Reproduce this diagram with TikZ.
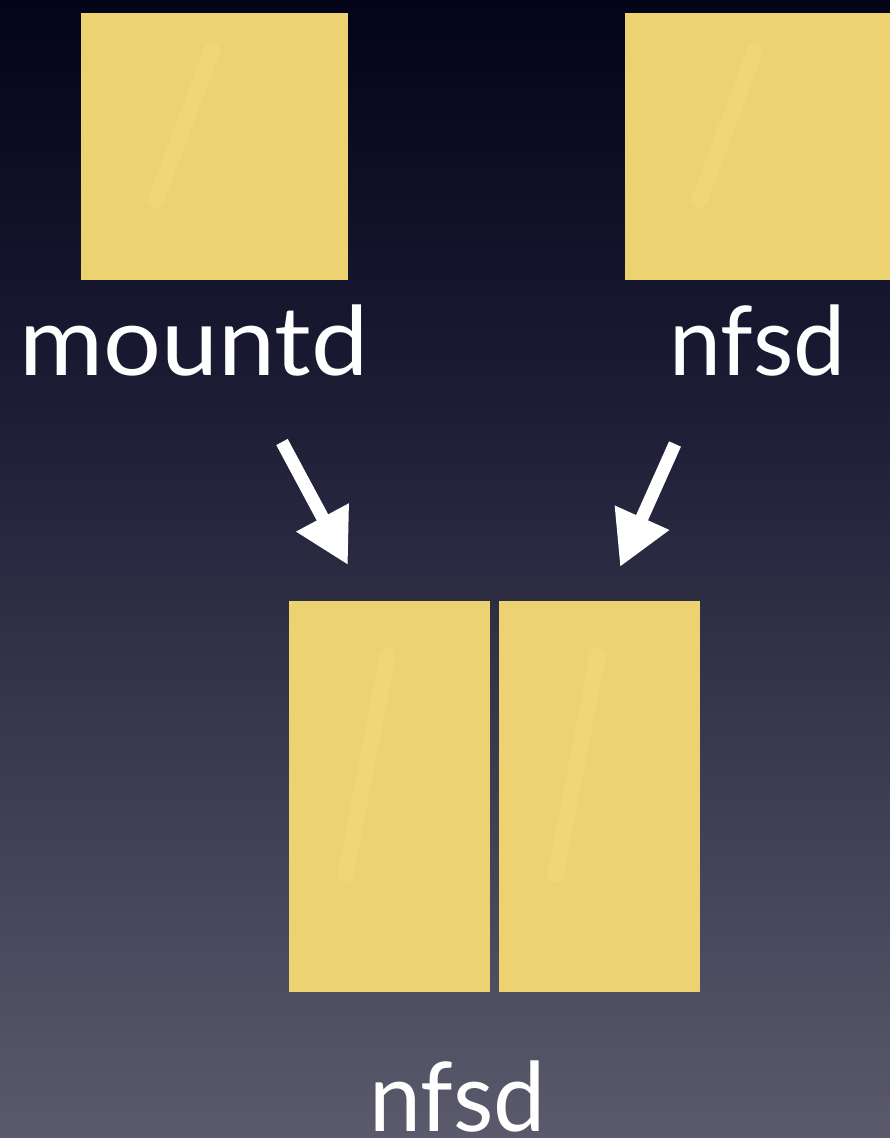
\documentclass[tikz,border=0pt]{standalone}
\usepackage{fontspec}
\newfontfamily\labelfont{Lato}
\usetikzlibrary{arrows.meta,calc}
\definecolor{bgA}{RGB}{3,4,24}
\definecolor{bgB}{RGB}{28,29,53}
\definecolor{bgC}{RGB}{90,90,108}
\definecolor{paper}{RGB}{237,210,114}
\definecolor{paperlight}{RGB}{248,224,132}
\tikzset{
  paperbox/.style={fill=paper, draw=none, inner sep=0pt, anchor=north west,
    path picture={
      \draw[paperlight, line width=16pt, opacity=0.3, line cap=round]
        let \p1=(path picture bounding box.south west),
            \p2=(path picture bounding box.north east) in
        (\x1+0.28*\x2-0.28*\x1, \y1+0.30*\y2-0.30*\y1) --
        (\x1+0.49*\x2-0.49*\x1, \y1+0.86*\y2-0.86*\y1);
    }},
  lbl/.style={text=white, inner sep=0pt, anchor=base west,
    font=\labelfont\fontsize{96}{96}\selectfont},
  bigarrow/.style={white, line width=13pt,
    -{Triangle[length=54pt,width=56pt]}}
}
\begin{document}
\begin{tikzpicture}[x=1pt,y=-1pt]
\useasboundingbox (0,0) rectangle (890,1138);
\shade[top color=bgA, bottom color=bgB] (0,0) rectangle (890,400.5);
\shade[top color=bgB, bottom color=bgC] (0,400) rectangle (890,1138);

\node[paperbox, minimum width=267pt, minimum height=267pt] (sq1) at (81,13) {};
\node[paperbox, minimum width=265pt, minimum height=267pt] (sq2) at (625,13) {};
\node[paperbox, minimum width=201pt, minimum height=391pt] (b1) at (289,601) {};
\node[paperbox, minimum width=201pt, minimum height=391pt] (b2) at (499,601) {};

\node[lbl] (l1) at (19,375) {\scalebox{1.065}[1]{mountd}};
\node[lbl] (l2) at (669,375) {\scalebox{0.97}[1]{nfsd}};
\node[lbl] (l3) at (369,1131) {\scalebox{0.97}[1]{nfsd}};

\coordinate (a1s) at (282,442);
\coordinate (a1e) at (348,565);
\coordinate (a2s) at (675,444);
\coordinate (a2e) at (620,567);
\draw[bigarrow] (a1s) -- (a1e);
\draw[bigarrow] (a2s) -- (a2e);
\end{tikzpicture}
\end{document}
